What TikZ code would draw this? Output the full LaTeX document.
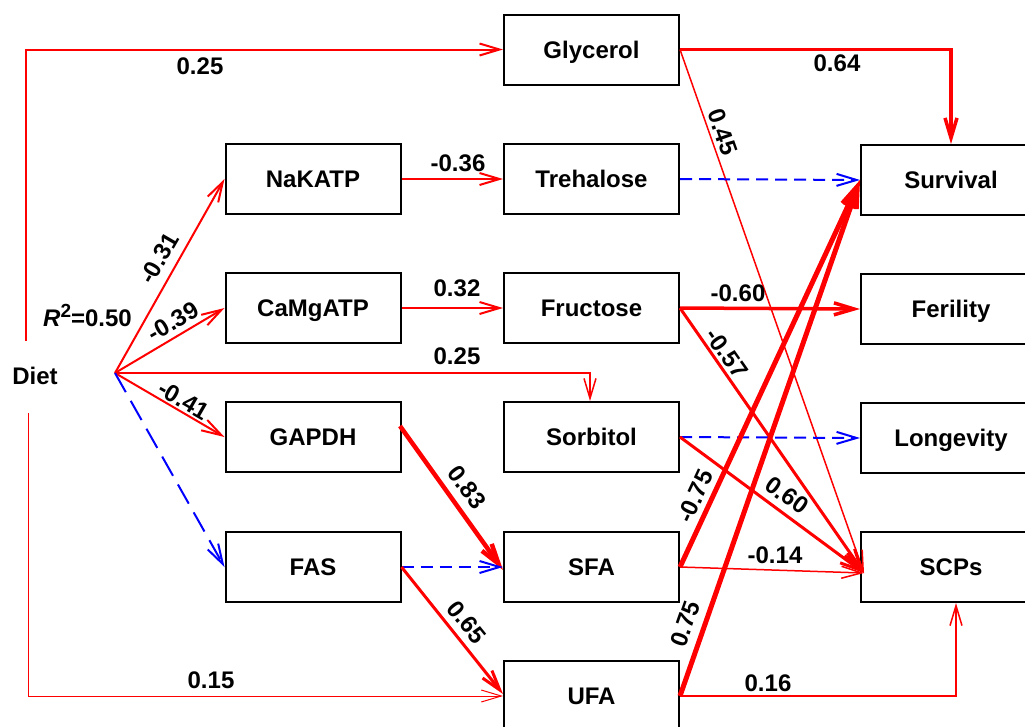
\documentclass[tikz,border=0pt]{standalone}
\usepackage{fontspec}
\setmainfont{Liberation Sans}
\usetikzlibrary{arrows.meta}
\begin{document}
\begin{tikzpicture}[x=1pt,y=-1pt,
  box/.style={draw=black, line width=2pt, minimum width=175pt, minimum height=70pt, inner sep=0pt,
    text height=17pt, text depth=0pt, font=\fontsize{24}{28}\selectfont\bfseries},
  rbox/.style={box, minimum width=180pt},
  lbl/.style={inner sep=0pt, text height=17pt, text depth=0pt, font=\fontsize{24}{28}\selectfont\bfseries},
  tipbarb/.style={-{Straight Barb[length=20pt,width=12pt]}},
  posarr/.style={draw=red, tipbarb},
  negarr/.style={draw=blue, tipbarb, line width=2pt, dash pattern=on 12pt off 7pt},
]
\useasboundingbox (0,0) rectangle (1025,726);
\clip (0,0) rectangle (1025,726);

% nodes
\node[box] (glyc) at (591.5,49.5) {Glycerol};
\node[box] (treh) at (591.5,179) {Trehalose};
\node[box] (fruc) at (591.5,308) {Fructose};
\node[box] (sorb) at (591.5,437) {Sorbitol};
\node[box] (sfa)  at (591.5,567) {SFA};
\node[box] (ufa)  at (591.5,696) {UFA};
\node[box] (nak)  at (313,179) {NaKATP};
\node[box] (camg) at (313,308) {CaMgATP};
\node[box] (gapdh) at (313,437) {GAPDH};
\node[box] (fas)  at (313,567) {FAS};
\node[rbox] (surv) at (951,180) {Survival};
\node[rbox] (feril) at (951,309) {Ferility};
\node[rbox] (longv) at (951,438) {Longevity};
\node[rbox] (scps) at (951,567) {SCPs};
\node[lbl] (diet) at (35,376) {Diet};
\node[lbl, anchor=base west] (r2) at (43,326) {\textit{R}\raisebox{9pt}{\fontsize{19}{20}\selectfont 2}=0.50};

% free points
\coordinate (d1) at (26,341);
\coordinate (d2) at (28,413);
\coordinate (dO) at (115,373);
\coordinate (scpin) at (864,573);
\coordinate (gapout) at (400,426);

% Diet paths
\draw[posarr, line width=2pt] (d1) |- (glyc.west);
\draw[posarr, line width=1pt] (d2) |- (ufa.west);
\draw[posarr, line width=2pt] (dO) -- (nak.west);
\draw[posarr, line width=2pt] (dO) -- (camg.west);
\draw[posarr, line width=1.5pt] (dO) -| ([xshift=-1.5pt]sorb.north);
\draw[posarr, line width=2pt] (dO) -- (gapdh.west);
\draw[negarr, dash pattern=on 22pt off 10pt] (dO) -- (fas.west);

% middle
\draw[posarr, line width=2pt] (nak.east) -- (treh.west);
\draw[posarr, line width=2pt] (camg.east) -- (fruc.west);
\draw[posarr, line width=4.5pt] (gapout) -- ([yshift=-3pt]sfa.west);
\draw[negarr] (fas.east) -- (sfa.west);
\draw[posarr, line width=3pt] (fas.east) -- ([yshift=2pt]ufa.west);

% to outcomes
\draw[posarr, line width=3.5pt] (glyc.east) -| (surv.north);
\draw[posarr, line width=1.5pt] (glyc.east) -- (scpin);
\draw[negarr] (treh.east) -- (surv.west);
\draw[posarr, line width=3.5pt] (fruc.east) -- (feril.west);
\draw[posarr, line width=3pt] (fruc.east) -- (scpin);
\draw[negarr] (sorb.east) -- (longv.west);
\draw[posarr, line width=3pt] (sorb.east) -- (scpin);
\draw[posarr, line width=5pt] (sfa.east) -- (surv.west);
\draw[posarr, line width=1.5pt] (sfa.east) -- (scpin);
\draw[posarr, line width=5pt] (ufa.east) -- (surv.west);
\draw[posarr, line width=1.5pt] (ufa.east) -| ([xshift=5pt]scps.south);

% labels
\node[lbl] at (200,66) {0.25};
\node[lbl] at (211,680) {0.15};
\node[lbl, rotate=60] at (159,258) {-0.31};
\node[lbl, rotate=30] at (173,321) {-0.39};
\node[lbl, rotate=-30] at (184,400) {-0.41};
\node[lbl] at (457,356) {0.25};
\node[lbl] at (458,163) {-0.36};
\node[lbl] at (457,288) {0.32};
\node[lbl] at (837,63) {0.64};
\node[lbl, rotate=-70.5] at (723,132) {0.45};
\node[lbl] at (738,293) {-0.60};
\node[lbl, rotate=-55] at (727,353) {-0.57};
\node[lbl, rotate=-36] at (787,495) {0.60};
\node[lbl, rotate=65] at (695,496) {-0.75};
\node[lbl] at (775,555) {-0.14};
\node[lbl, rotate=70.7] at (685,624) {0.75};
\node[lbl] at (768,683) {0.16};
\node[lbl, rotate=-53] at (467,487) {0.83};
\node[lbl, rotate=-51] at (467,622) {0.65};
\end{tikzpicture}
\end{document}
